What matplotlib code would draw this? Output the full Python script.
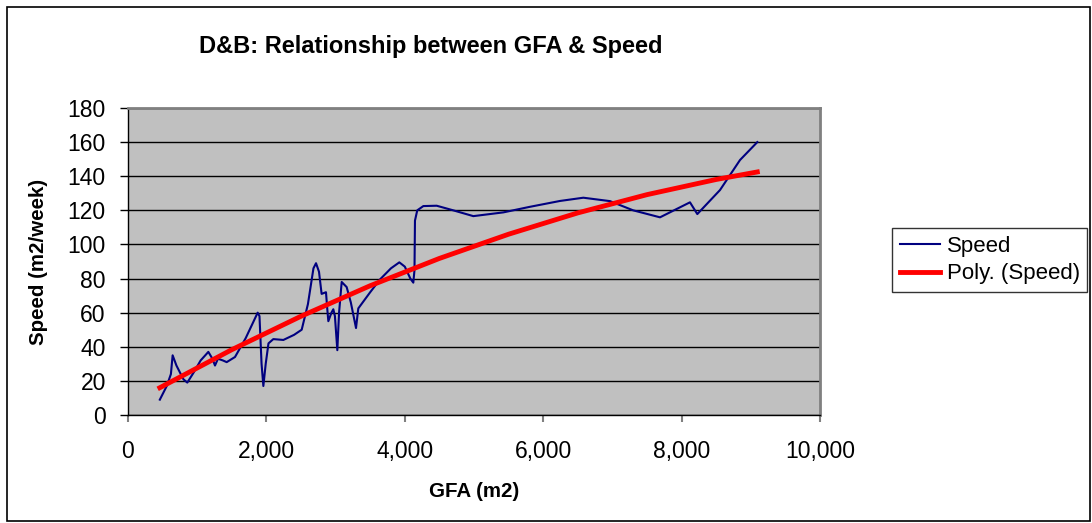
import matplotlib.pyplot as plt
from matplotlib.patches import Rectangle
from matplotlib.ticker import FuncFormatter, MultipleLocator

plt.rcParams['font.family'] = ['Liberation Sans', 'DejaVu Sans']

# Speed series
gfa = [460, 560, 620, 645, 700, 800, 857, 950, 1050, 1161, 1220, 1257, 1300,
       1370, 1426, 1546, 1700, 1874, 1900, 1930, 1956, 1990, 2030, 2100, 2245,
       2400, 2510, 2600, 2680, 2717, 2760, 2798, 2861, 2880, 2895, 2940, 2967,
       2990, 3025, 3050, 3088, 3160, 3220, 3295, 3328, 3500, 3642, 3800, 3921,
       4000, 4080, 4123, 4140, 4147, 4180, 4268, 4461, 4700, 4990, 5424, 5800,
       6243, 6580, 6965, 7300, 7688, 8121, 8227, 8555, 8844, 9094]
speed = [9, 17, 24, 35, 29, 21, 19, 25, 32, 37, 33, 29, 33,
         32, 31, 34, 45, 60, 58, 30, 17, 30, 42, 44.5, 44,
         47, 50, 65, 86, 89, 84, 71, 72, 62, 55, 60, 62,
         58, 38, 60, 78, 75, 66, 51, 62.5, 72, 79.5, 86, 89.5,
         87, 80, 77.6, 85, 114, 120, 122.5, 122.7, 120, 116.6, 118.8, 122,
         125.5, 127.4, 125.4, 120, 115.9, 124.7, 117.8, 131.9, 149.5, 160]

# Poly. (Speed) trendline
trend_gfa = [460, 1500, 2500, 3500, 4500, 5500, 6500, 7500, 8500, 9094]
trend_speed = [16.0, 38.3, 57.9, 75.8, 91.8, 106.0, 118.5, 129.2, 138.1, 142.5]

fig = plt.figure(figsize=(10.92, 5.23), dpi=100)
ax = fig.add_axes([128 / 1092, 1 - 415 / 523, 692 / 1092, 307 / 523])
ax.set_facecolor('#C0C0C0')

ax.plot(gfa, speed, color='#000080', linewidth=1.5, label='Speed', zorder=3)
ax.plot(trend_gfa, trend_speed, color='#FF0000', linewidth=3.5,
        label='Poly. (Speed)', zorder=4)

ax.set_xlim(0, 10000)
ax.set_ylim(0, 180)
ax.xaxis.set_major_locator(MultipleLocator(2000))
ax.yaxis.set_major_locator(MultipleLocator(20))
ax.xaxis.set_major_formatter(FuncFormatter(lambda v, p: f'{int(v):,}'))
ax.grid(axis='y', color='black', linewidth=1.0, zorder=1)
ax.set_axisbelow(True)

for s in ['top', 'right']:
    ax.spines[s].set_color('#808080')
    ax.spines[s].set_linewidth(2)
for s in ['left', 'bottom']:
    ax.spines[s].set_color('black')
    ax.spines[s].set_linewidth(1)

ax.tick_params(axis='y', direction='out', length=6, width=1, labelsize=16.5, pad=10)
ax.tick_params(axis='x', direction='out', length=5, width=1.5, colors='#808080',
               labelcolor='black', labelsize=16.5, pad=13)

ax.set_xlabel('GFA (m2)', fontsize=14.8, fontweight='bold', labelpad=14)
ax.set_ylabel('Speed (m2/week)', fontsize=14.8, fontweight='bold', labelpad=14)

fig.text(431 / 1092, 1 - 47 / 523, 'D&B: Relationship between GFA & Speed',
         ha='center', va='center', fontsize=17, fontweight='bold')

leg = ax.legend(loc='center left', bbox_to_anchor=(881 / 1092, 1 - 260 / 523),
                bbox_transform=fig.transFigure, fontsize=16, frameon=True,
                fancybox=False, edgecolor='black', handlelength=1.8,
                borderpad=0.35, labelspacing=0.3, handletextpad=0.3)
leg.get_frame().set_linewidth(1)

fig.patches.append(Rectangle((7 / 1092, 2 / 523), 1083 / 1092, 514 / 523,
                             transform=fig.transFigure, fill=False,
                             edgecolor='black', linewidth=1.2))

fig.savefig('out.png', dpi=100)
